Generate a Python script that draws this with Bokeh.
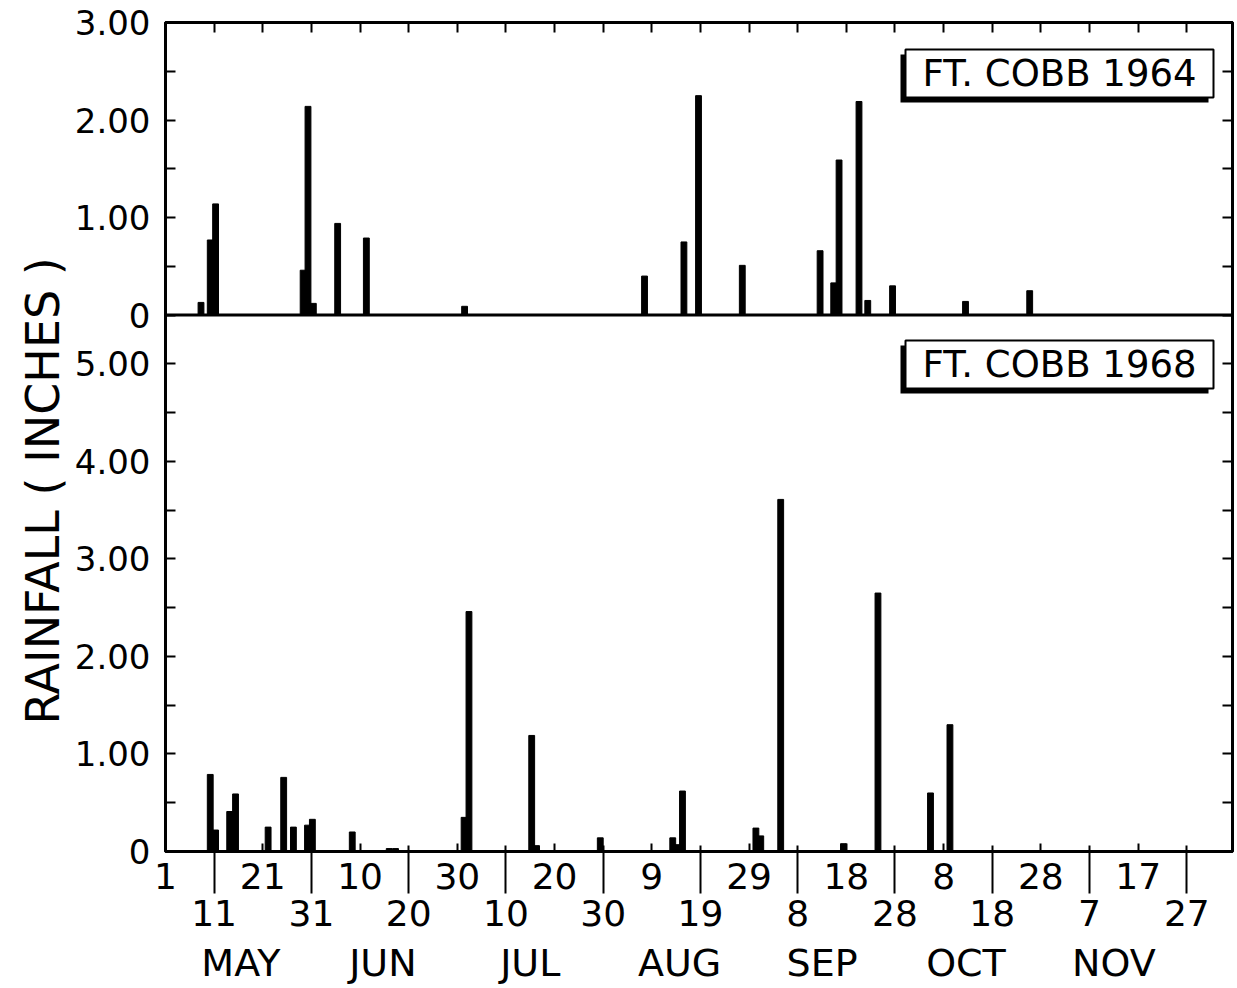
from bokeh.plotting import figure
from bokeh.models import (Range1d, LinearAxis, FixedTicker, Label, BoxAnnotation,
                          Span, CustomJSTickFormatter, Title)
from bokeh.embed import file_html
from bokeh.resources import INLINE

FONT = "DejaVu Sans"

# x = days after May 1 (0 = May 1)
days_1964 = [7.3, 9.2, 10.3, 28.3, 29.3, 30.4, 35.4, 41.3, 61.5, 98.5, 106.6, 109.6,
             118.6, 134.6, 137.4, 138.5, 142.6, 144.4, 149.5, 164.5, 177.7]
rain_1964 = [0.13, 0.77, 1.14, 0.46, 2.14, 0.12, 0.94, 0.79, 0.09, 0.40, 0.75, 2.25,
             0.51, 0.66, 0.33, 1.59, 2.19, 0.15, 0.30, 0.14, 0.25]

days_1968 = [9.2, 10.3, 13.2, 14.4, 21.1, 24.3, 26.3, 29.2, 30.2, 38.4, 46.0, 47.3,
             61.4, 62.4, 75.3, 76.3, 89.4, 104.3, 105.3, 106.3, 121.4, 122.4, 126.5,
             139.4, 146.5, 157.3, 161.3]
rain_1968 = [0.79, 0.22, 0.41, 0.59, 0.25, 0.76, 0.25, 0.27, 0.33, 0.20, 0.03, 0.03,
             0.35, 2.46, 1.19, 0.06, 0.14, 0.14, 0.07, 0.62, 0.24, 0.16, 3.61,
             0.08, 2.65, 0.60, 1.30]

row1_days = [0, 20, 40, 60, 80, 100, 120, 140, 160, 180, 200]
row1_labels = ["1", "21", "10", "30", "20", "9", "29", "18", "8", "28", "17"]
row2_days = [10, 30, 50, 70, 90, 110, 130, 150, 170, 190, 210]
row2_labels = ["11", "31", "20", "10", "30", "19", "8", "28", "18", "7", "27"]
month_days = [15.5, 44.7, 75.0, 105.7, 135.0, 164.6, 195.0]
month_labels = ["MAY", "JUN", "JUL", "AUG", "SEP", "OCT", "NOV"]

top_ticks = [0, 1, 2, 3]
top_labels = ["0", "1.00", "2.00", "3.00"]
bot_ticks = [0, 1, 2, 3, 4, 5]
bot_labels = ["0", "1.00", "2.00", "3.00", "4.00", "5.00"]
TOP_MAX = 3.0
BOT_MAX = 5.5
X_MAX = 219.4

FW, FH = 1067, 829

p = figure(frame_width=FW, frame_height=FH,
           x_range=Range1d(0, X_MAX), y_range=Range1d(0, BOT_MAX + TOP_MAX),
           x_axis_location=None, y_axis_location=None,
           toolbar_location=None, output_backend="svg", title=None,
           min_border_left=165, min_border_right=4, min_border_top=22, min_border_bottom=0)
p.extra_y_ranges = {"top": Range1d(-BOT_MAX, TOP_MAX)}
p.xgrid.visible = False
p.ygrid.visible = False
p.outline_line_color = "black"
p.outline_line_width = 3
p.background_fill_color = "white"
p.border_fill_color = "white"

blank = CustomJSTickFormatter(code="return ''")

# left axis: bottom panel ticks + top panel ticks (top panel zero sits at BOT_MAX)
left_ticks = bot_ticks + [BOT_MAX + t for t in top_ticks]
left_minor = [t + 0.5 for t in bot_ticks[:-1]] + [BOT_MAX + t + 0.5 for t in top_ticks[:-1]]
yl = LinearAxis(ticker=FixedTicker(ticks=left_ticks, minor_ticks=left_minor),
                major_label_overrides=dict(zip(left_ticks, bot_labels + top_labels)),
                axis_line_width=3, major_tick_in=10, major_tick_out=0,
                minor_tick_in=10, minor_tick_out=0,
                major_tick_line_width=2, minor_tick_line_width=2,
                major_label_text_font=FONT, major_label_text_font_size="34px",
                major_label_text_color="black", major_label_standoff=15)
p.add_layout(yl, "left")

p.add_layout(Title(text="RAINFALL ( INCHES )", align="left", offset=127, standoff=4,
                   text_font=FONT, text_font_size="46px", text_font_style="normal",
                   text_color="black"), "left")

half_steps = [i * 0.5 for i in range(int((BOT_MAX + TOP_MAX) / 0.5) + 1)]
yr = LinearAxis(ticker=FixedTicker(ticks=half_steps), formatter=blank,
                axis_line_width=3, major_tick_in=10, major_tick_out=0,
                minor_tick_line_color=None, major_tick_line_width=2,
                major_label_text_font_size="0px", major_label_standoff=0)
p.add_layout(yr, "right")

xt = LinearAxis(ticker=FixedTicker(ticks=sorted(row1_days + row2_days)), formatter=blank,
                axis_line_width=3, major_tick_in=10, major_tick_out=0,
                minor_tick_line_color=None, major_tick_line_width=2,
                major_label_text_font_size="0px", major_label_standoff=0)
p.add_layout(xt, "above")

xb1 = LinearAxis(ticker=FixedTicker(ticks=row1_days, minor_ticks=row2_days),
                 major_label_overrides=dict(zip(row1_days, row1_labels)),
                 axis_line_width=3, major_tick_in=8, major_tick_out=0,
                 minor_tick_in=6, minor_tick_out=42,
                 major_tick_line_width=2, minor_tick_line_width=2,
                 major_label_text_font=FONT, major_label_text_font_size="36px",
                 major_label_text_color="black", major_label_standoff=-31)
p.add_layout(xb1, "below")

xb2 = LinearAxis(ticker=FixedTicker(ticks=row2_days),
                 major_label_overrides=dict(zip(row2_days, row2_labels)),
                 axis_line_color=None, major_tick_line_color=None, minor_tick_line_color=None,
                 major_label_text_font=FONT, major_label_text_font_size="36px",
                 major_label_text_color="black", major_label_standoff=2)
p.add_layout(xb2, "below")

xb3 = LinearAxis(ticker=FixedTicker(ticks=month_days),
                 major_label_overrides=dict(zip(month_days, month_labels)),
                 axis_line_color=None, major_tick_line_color=None, minor_tick_line_color=None,
                 major_label_text_font=FONT, major_label_text_font_size="38px",
                 major_label_text_color="black", major_label_standoff=6)
p.add_layout(xb3, "below")

# bars
p.vbar(x=days_1964, top=rain_1964, bottom=0, width=1.2, color="black", y_range_name="top")
p.vbar(x=days_1968, top=rain_1968, bottom=0, width=1.2, color="black")

# divider between panels = zero line of the top panel
p.add_layout(Span(location=0, dimension="width", y_range_name="top",
                  line_color="black", line_width=3))

# station boxes with drop shadow
def station_box(text, top_y):
    right = FW - 19
    left = right - 308
    bottom = top_y - 48
    p.add_layout(BoxAnnotation(left=left - 5, right=right - 5, top=top_y - 5, bottom=bottom - 5,
                               left_units="screen", right_units="screen",
                               top_units="screen", bottom_units="screen",
                               fill_color="black", fill_alpha=1, line_color=None))
    p.add_layout(BoxAnnotation(left=left, right=right, top=top_y, bottom=bottom,
                               left_units="screen", right_units="screen",
                               top_units="screen", bottom_units="screen",
                               fill_color="white", fill_alpha=1,
                               line_color="black", line_alpha=1, line_width=2))
    p.add_layout(Label(x=(left + right) / 2, y=(top_y + bottom) / 2,
                       x_units="screen", y_units="screen", text=text,
                       text_align="center", text_baseline="middle",
                       text_font=FONT, text_font_size="37px", text_color="black"))

station_box("FT. COBB 1964", FH - 27)
station_box("FT. COBB 1968", FH - 318)

open("out.html", "w").write(file_html(p, INLINE))
